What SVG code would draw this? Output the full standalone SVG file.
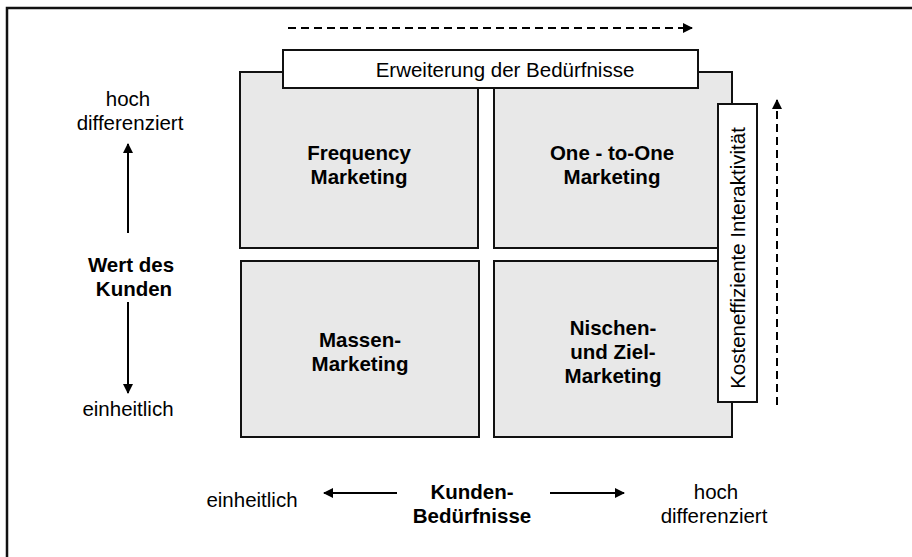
<svg xmlns="http://www.w3.org/2000/svg" width="912" height="557" viewBox="0 0 912 557">
<defs>
<marker id="ah" viewBox="0 0 10 10" refX="9" refY="5" markerWidth="5" markerHeight="5" orient="auto" markerUnits="strokeWidth">
<path d="M0,0 L10,5 L0,10 z" fill="#000"/>
</marker>
<style>
.q{fill:#e8e8e8;stroke:#111;stroke-width:2}
.lb{fill:#fff;stroke:#111;stroke-width:2}
text{font-family:"Liberation Sans",Arial,sans-serif;font-size:20.5px;fill:#000;text-anchor:middle}
.b{font-weight:bold}
.ar{stroke:#000;stroke-width:2;fill:none;marker-end:url(#ah)}
.da{stroke:#000;stroke-width:2;fill:none;stroke-dasharray:8 5;marker-end:url(#ah)}
</style>
</defs>
<rect x="7" y="8" width="930" height="580" fill="#fff" stroke="#111" stroke-width="2.5"/>
<g id="q-frequency">
<rect class="q" x="240" y="72" width="238" height="176"/>
<text class="b" x="359" y="160">Frequency</text>
<text class="b" x="359" y="184">Marketing</text>
</g>
<g id="q-onetoone">
<rect class="q" x="494" y="72" width="238" height="176"/>
<text class="b" x="612" y="160">One - to-One</text>
<text class="b" x="612" y="184">Marketing</text>
</g>
<g id="q-massen">
<rect class="q" x="241" y="261" width="238" height="176"/>
<text class="b" x="360" y="347">Massen-</text>
<text class="b" x="360" y="371">Marketing</text>
</g>
<g id="q-nischen">
<rect class="q" x="494" y="261" width="238" height="176"/>
<text class="b" x="613" y="335">Nischen-</text>
<text class="b" x="613" y="359">und Ziel-</text>
<text class="b" x="613" y="383">Marketing</text>
</g>
<g id="label-erweiterung">
<rect class="lb" x="283" y="50" width="415" height="38"/>
<text x="505" y="77">Erweiterung der Bedürfnisse</text>
</g>
<g id="label-kosten">
<rect class="lb" x="718" y="104" width="39" height="298"/>
<text x="0" y="0" transform="translate(745,258) rotate(-90)">Kosteneffiziente Interaktivität</text>
</g>
<g id="axis-wert">
<text x="128" y="106">hoch</text>
<text x="130" y="130">differenziert</text>
<text class="b" x="131" y="272">Wert des</text>
<text class="b" x="134" y="296">Kunden</text>
<text x="128" y="416">einheitlich</text>
</g>
<g id="axis-beduerfnisse">
<text x="252" y="507">einheitlich</text>
<text class="b" x="472" y="499">Kunden-</text>
<text class="b" x="472" y="523">Bedürfnisse</text>
<text x="716" y="499">hoch</text>
<text x="714" y="523">differenziert</text>
</g>
<g id="connectors">
<line class="ar" x1="128" y1="233" x2="128" y2="144"/>
<line class="ar" x1="128" y1="302" x2="128" y2="393"/>
<line class="ar" x1="397" y1="493" x2="324" y2="493"/>
<line class="ar" x1="550" y1="493" x2="624" y2="493"/>
<line class="da" x1="288" y1="28" x2="692" y2="28"/>
<line class="da" x1="777" y1="405" x2="777" y2="100"/>
</g>
</svg>
